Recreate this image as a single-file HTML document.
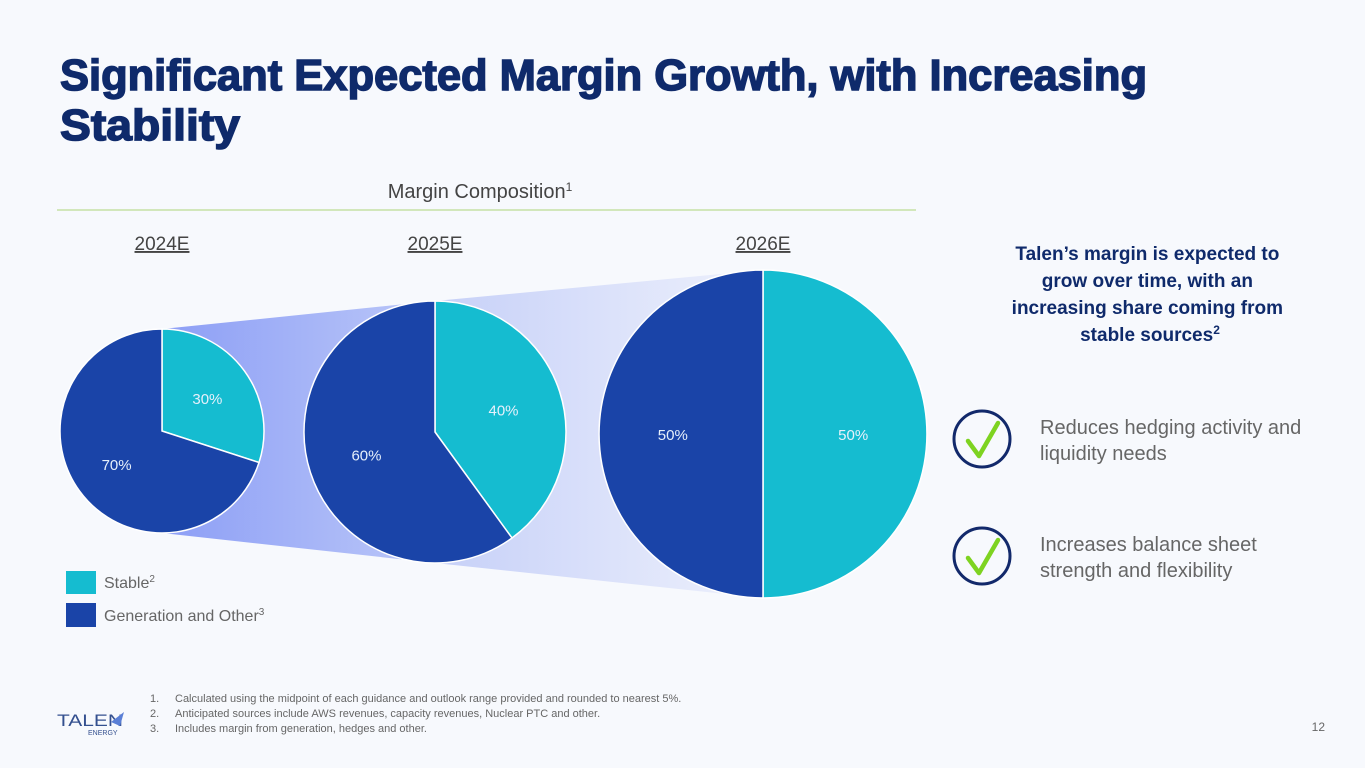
<!DOCTYPE html>
<html><head><meta charset="utf-8">
<style>
html,body{margin:0;padding:0;background:#f7f9fd;}
svg{display:block;font-family:"Liberation Sans",sans-serif;}
</style></head>
<body>
<svg id="chart" width="1365" height="768" viewBox="0 0 1365 768">
<defs>
<linearGradient id="g1" x1="0" x2="1" y1="0" y2="0"><stop offset="0" stop-color="#8c9ef6"/><stop offset="1" stop-color="#bcc8f8"/></linearGradient>
<linearGradient id="g2" x1="0" x2="1" y1="0" y2="0"><stop offset="0" stop-color="#c6d0f8"/><stop offset="1" stop-color="#eef1fc"/></linearGradient>
</defs>
<rect width="1365" height="768" fill="#f7f9fd"/>
<text x="60" y="90" font-size="44" font-weight="bold" fill="#0f2a6b" stroke="#0f2a6b" stroke-width="1.5" textLength="1087" lengthAdjust="spacingAndGlyphs">Significant Expected Margin Growth, with Increasing</text>
<text x="60" y="140" font-size="44" font-weight="bold" fill="#0f2a6b" stroke="#0f2a6b" stroke-width="1.5" textLength="180" lengthAdjust="spacingAndGlyphs">Stability</text>
<text x="480" y="198" font-size="20" fill="#444" text-anchor="middle">Margin Composition<tspan font-size="12" dy="-7">1</tspan></text>
<line x1="57" y1="210" x2="916" y2="210" stroke="#c5e1a5" stroke-width="1.5"/>
<g id="bands"></g>
<g id="pies"></g>
<rect x="66" y="571" width="30" height="23" fill="#15bcd0"/>
<text x="104" y="588" font-size="16" fill="#666">Stable<tspan font-size="10" dy="-6">2</tspan></text>
<rect x="66" y="603" width="30" height="24" fill="#1a44a8"/>
<text x="104" y="621" font-size="16" fill="#666">Generation and Other<tspan font-size="10" dy="-6">3</tspan></text>
<text font-size="19" font-weight="bold" fill="#0f2a6b" text-anchor="middle">
<tspan x="1150" y="260">Talen’s margin is expected to</tspan>
<tspan x="1150" y="287">grow over time, with an</tspan>
<tspan x="1150" y="314">increasing share coming from</tspan>
<tspan x="1150" y="341">stable sources<tspan font-size="12" dy="-7">2</tspan></tspan></text>
<g><circle cx="982" cy="439" r="28" fill="none" stroke="#12296b" stroke-width="3"/><path d="M968 441 L979 456 L998 423" fill="none" stroke="#7ed321" stroke-width="4.5" stroke-linecap="round" stroke-linejoin="round"/></g>
<text font-size="20" fill="#666"><tspan x="1040" y="434">Reduces hedging activity and</tspan><tspan x="1040" y="460">liquidity needs</tspan></text>
<g><circle cx="982" cy="556" r="28" fill="none" stroke="#12296b" stroke-width="3"/><path d="M968 558 L979 573 L998 540" fill="none" stroke="#7ed321" stroke-width="4.5" stroke-linecap="round" stroke-linejoin="round"/></g>
<text font-size="20" fill="#666"><tspan x="1040" y="551">Increases balance sheet</tspan><tspan x="1040" y="577">strength and flexibility</tspan></text>
<g><text x="57" y="726" font-size="17" fill="#34508f" textLength="66" lengthAdjust="spacingAndGlyphs">TALEN</text><path d="M111 722 L124 712 L120 726 Z" fill="#5a7fd6"/><text x="88" y="735" font-size="7" fill="#34508f">ENERGY</text></g>
<text font-size="11" fill="#666">
<tspan x="150" y="702">1.</tspan><tspan x="175" y="702">Calculated using the midpoint of each guidance and outlook range provided and rounded to nearest 5%.</tspan>
<tspan x="150" y="717">2.</tspan><tspan x="175" y="717">Anticipated sources include AWS revenues, capacity revenues, Nuclear PTC and other.</tspan>
<tspan x="150" y="732">3.</tspan><tspan x="175" y="732">Includes margin from generation, hedges and other.</tspan></text>
<text x="1325" y="731" font-size="12" fill="#666" text-anchor="end">12</text>
</svg>
<script>
const years = ["2024E","2025E","2026E"];
const stableShare = [30,40,50];
const otherShare = [70,60,50];
const NS="http://www.w3.org/2000/svg";
const svg=document.getElementById('chart');
const pies=document.getElementById('pies'), bands=document.getElementById('bands');
const cx=[162,435,763], cy=[431,432,434], rr=[102,131,164];
function mk(t,a,p){const e=document.createElementNS(NS,t);for(const k in a)e.setAttribute(k,a[k]);p.appendChild(e);return e;}
function pt(i,f){const a=f*2*Math.PI;return [cx[i]+rr[i]*Math.sin(a),cy[i]-rr[i]*Math.cos(a)];}
for(let i=0;i<years.length-1;i++){
  const p=mk('path',{d:`M${cx[i]} ${cy[i]-rr[i]} L${cx[i+1]} ${cy[i+1]-rr[i+1]} L${cx[i+1]} ${cy[i+1]+rr[i+1]} L${cx[i]} ${cy[i]+rr[i]} Z`,fill:i?'url(#g2)':'url(#g1)'},bands);
  
  
}
years.forEach((y,i)=>{
  const tot=stableShare[i]+otherShare[i], fs=stableShare[i]/tot;
  const lbl=mk('text',{x:cx[i],y:250,'font-size':19,fill:'#444','text-anchor':'middle','text-decoration':'underline'},svg);
  lbl.textContent=y;
  
  
  const segs=[[0,fs,'#15bcd0',stableShare[i],'stable'],[fs,1,'#1a44a8',otherShare[i],'other']];
  segs.forEach(s=>{
    const a=pt(i,s[0]),b=pt(i,s[1]),large=(s[1]-s[0])>0.5?1:0;
    const p=mk('path',{d:`M${cx[i]} ${cy[i]} L${a[0]} ${a[1]} A${rr[i]} ${rr[i]} 0 ${large} 1 ${b[0]} ${b[1]} Z`,fill:s[2],stroke:'#fff','stroke-width':1.5},pies);
    
    
    const m=(s[0]+s[1])/2*2*Math.PI, d=rr[i]*0.55;
    const t=mk('text',{x:cx[i]+d*Math.sin(m),y:cy[i]-d*Math.cos(m)+6,'font-size':15,fill:'#e6f0fb','text-anchor':'middle'},pies);
    t.textContent=s[3]+'%';
    
    
  });
});
</script>
</body></html>
